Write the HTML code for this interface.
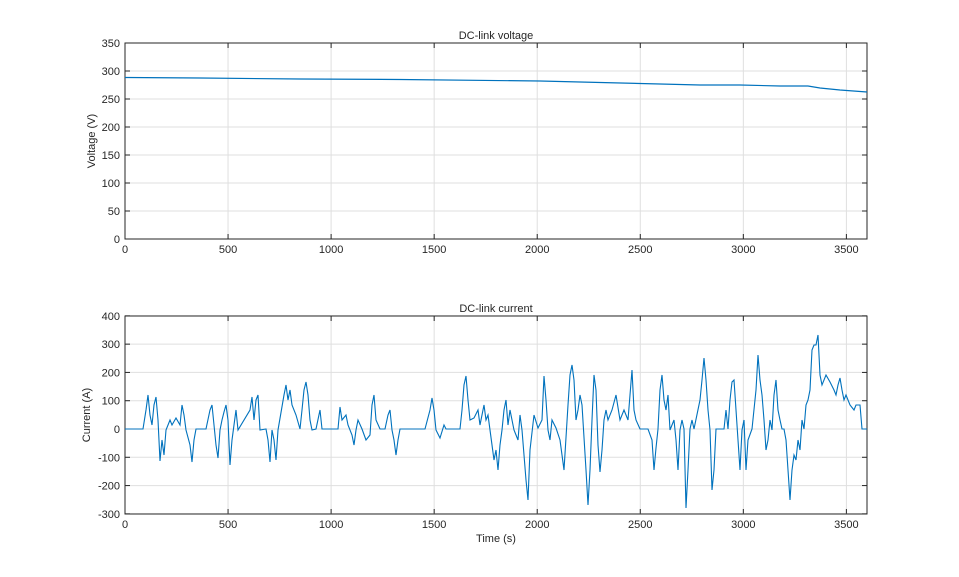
<!DOCTYPE html>
<html><head><meta charset="utf-8"><style>
html,body{margin:0;padding:0;background:#fff}
svg{display:block}
text{font-family:"Liberation Sans","Noto Sans CJK JP",sans-serif;font-size:11px;fill:#262626}
</style></head><body>
<svg width="959" height="577" viewBox="0 0 959 577" xmlns="http://www.w3.org/2000/svg">
<rect width="959" height="577" fill="#fff"/>
<g id="g1"></g>
<rect x="125" y="43" width="742" height="196" fill="none" stroke="#262626" stroke-width="1"/>
<rect x="125" y="316" width="742" height="198" fill="none" stroke="#262626" stroke-width="1"/>
<polyline fill="none" stroke="#0072BD" stroke-width="1.2" points="125,77.5 200,78 300,79 400,79.5 540,81 580,82 660,84 700,85 740,85 780,86 808,86 820,88 840,90 867,92"/>
<polyline id="cur" fill="none" stroke="#0072BD" stroke-width="1.1" points="125,429 143,429 146,410 148,395 150,415 152,425 154,405 156,397 158,420 160,461 162,440 164,455 166,430 170,420 172,425 176,418 180,425 182,405 184,415 186,430 190,445 192,462 194,440 196,429 206,429 210,410 212,405 214,425 216,445 218,458 220,430 222,420 224,412 226,405 228,420 230,465 232,440 234,425 236,410 238,430 250,410 252,397 254,420 256,400 258,395 260,430 266,429 268,440 270,462 272,430 274,440 276,460 278,430 284,395 286,385 288,400 290,390 292,405 296,415 300,429 302,410 304,390 306,382 308,395 310,420 312,430 316,429 320,410 322,429 338,429 340,407 342,420 346,415 348,425 352,435 354,445 356,430 358,420 362,429 366,440 370,435 372,405 374,395 376,420 380,429 385,429 388,415 390,410 392,430 394,440 396,455 398,440 400,429 425,429 430,410 432,398 434,410 436,430 440,438 444,425 446,429 460,429 462,410 464,385 466,376 468,400 470,420 474,418 478,410 480,425 484,405 486,420 488,415 490,430 492,445 494,460 496,450 498,470 500,445 502,430 504,410 506,400 508,425 510,410 512,420 514,430 518,440 520,415 522,430 526,480 528,500 530,450 534,415 538,428 542,420 544,376 546,400 548,430 550,440 552,420 556,428 560,440 564,470 568,405 570,375 572,365 574,380 576,420 578,410 580,395 582,405 586,470 588,505 590,470 592,420 594,375 596,390 598,445 600,472 602,450 604,420 606,410 608,420 612,410 616,395 620,420 624,410 628,420 630,395 632,370 634,410 636,420 640,429 648,429 652,440 654,470 656,448 658,429 660,390 662,375 664,400 666,410 668,395 670,430 674,420 676,440 678,470 680,430 682,420 684,429 686,508 688,470 690,429 692,420 694,429 700,400 702,380 704,358 706,380 708,410 710,430 712,490 714,470 716,429 724,429 726,410 728,429 730,400 732,382 734,380 736,410 738,440 740,470 742,430 744,420 746,470 748,440 752,429 756,390 758,355 760,380 762,395 764,420 766,450 768,440 770,420 772,430 774,395 776,380 778,410 780,420 782,429 784,429 786,440 788,470 790,500 792,470 794,455 796,460 798,440 800,450 802,420 804,429 806,405 808,400 810,390 812,350 814,345 816,345 818,335 820,375 822,385 826,375 830,382 834,390 836,395 838,385 840,378 842,390 844,400 846,395 850,405 854,410 856,405 860,405 862,429 867,429"/>
<text x="496" y="39" text-anchor="middle">DC-link voltage</text>
<text x="496" y="312" text-anchor="middle">DC-link current</text>
<text x="496" y="542" text-anchor="middle">Time (s)</text>
<text transform="translate(95,141) rotate(-90)" text-anchor="middle">Voltage (V)</text>
<text transform="translate(90,415) rotate(-90)" text-anchor="middle">Current (A)</text>
<g id="lab"></g>
</svg>
<script>
var ns="http://www.w3.org/2000/svg",g=document.getElementById("g1"),lab=document.getElementById("lab");
function el(p,t,a,txt){var e=document.createElementNS(ns,t);for(var k in a)e.setAttribute(k,a[k]);if(txt!=null)e.textContent=txt;p.appendChild(e);return e;}
var xs=[0,500,1000,1500,2000,2500,3000,3500];
[[43,239],[316,514]].forEach(function(ax){
 xs.forEach(function(t){var x=125+t/3600*742;
  el(g,"line",{x1:x,x2:x,y1:ax[0],y2:ax[1],stroke:"#dfdfdf","stroke-width":1});
  el(g,"line",{x1:x,x2:x,y1:ax[1],y2:ax[1]-5,stroke:"#262626"});
  el(g,"line",{x1:x,x2:x,y1:ax[0],y2:ax[0]+5,stroke:"#262626"});
  el(lab,"text",{x:x,y:ax[1]+14,"text-anchor":"middle"},t);});
});
for(var v=0;v<=350;v+=50){var y=239-v*196/350;
 el(g,"line",{x1:125,x2:867,y1:y,y2:y,stroke:"#dfdfdf"});
 el(g,"line",{x1:125,x2:130,y1:y,y2:y,stroke:"#262626"});el(g,"line",{x1:862,x2:867,y1:y,y2:y,stroke:"#262626"});
 el(lab,"text",{x:120,y:y+4,"text-anchor":"end"},v);}
for(var v=-300;v<=400;v+=100){var y=429-v*198/700;
 el(g,"line",{x1:125,x2:867,y1:y,y2:y,stroke:"#dfdfdf"});
 el(g,"line",{x1:125,x2:130,y1:y,y2:y,stroke:"#262626"});el(g,"line",{x1:862,x2:867,y1:y,y2:y,stroke:"#262626"});
 el(lab,"text",{x:120,y:y+4,"text-anchor":"end"},v);}
</script>
</body></html>
